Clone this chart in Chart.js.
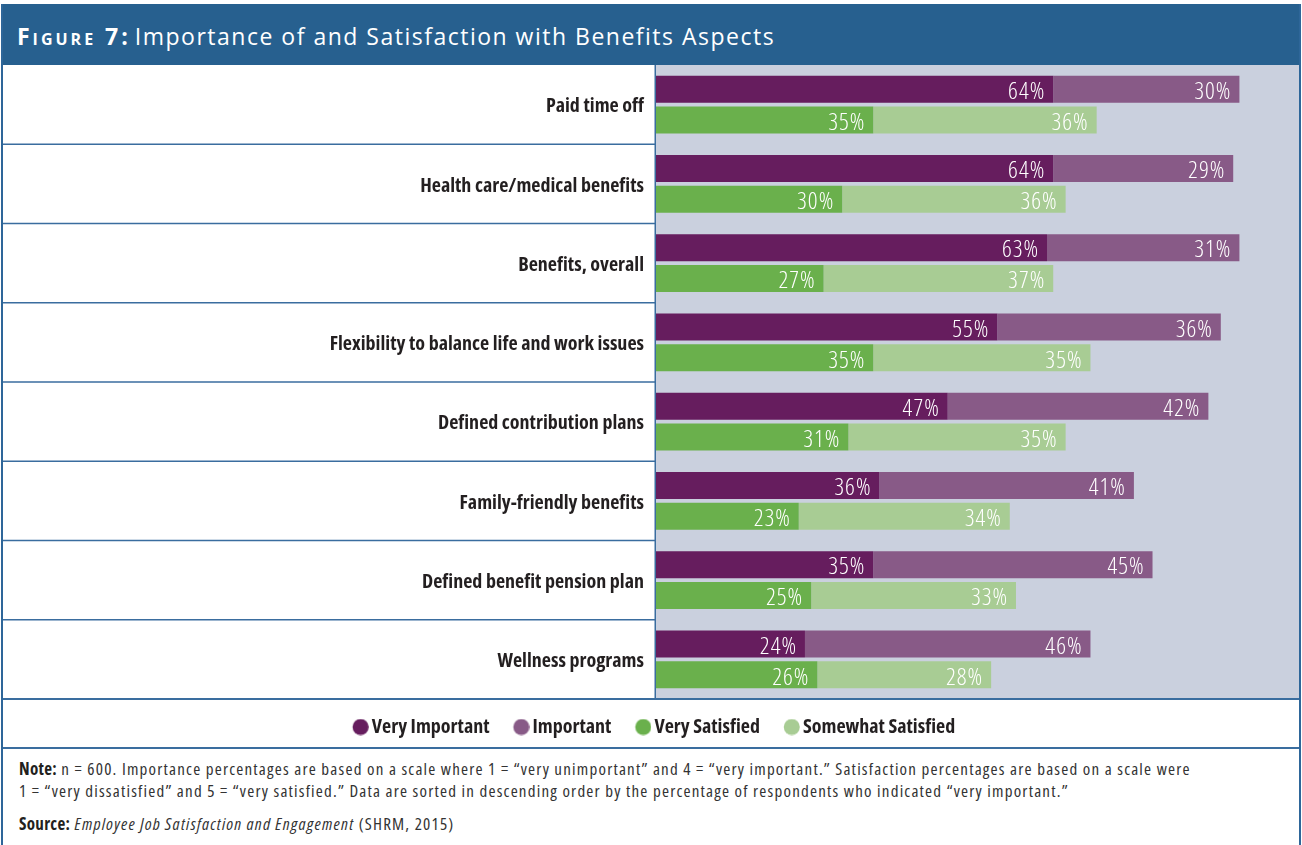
<!DOCTYPE html>
<html>
<head>
<meta charset="utf-8">
<script src="https://cdn.jsdelivr.net/npm/chart.js@4.4.1/dist/chart.umd.min.js"></script>
<style>
  html, body { margin: 0; padding: 0; background: #ffffff; }
  body { width: 1302px; height: 845px; position: relative; overflow: hidden; }
  #frame { position: absolute; left: 1px; top: 4px; width: 1296px; height: 845px;
           border-left: 2px solid #2e6699; border-right: 2px solid #2e6699; }
  #header { height: 61px; background: #27608f; color: #ffffff; display: flex; align-items: center;
            padding-left: 14px; padding-top: 2px; box-sizing: border-box; font-family: "Open Sans", sans-serif;
            font-size: 23px; letter-spacing: 1.5px; white-space: nowrap; }
  #header .fig { font-weight: bold; font-variant: small-caps; margin-right: 4px; letter-spacing: 3px; }
  #chartBox { position: relative; width: 1296px; height: 682px; }
  #notes { border-top: 2px solid #3a6d9f; padding: 9px 0 0 16px; font-family: "Open Sans", sans-serif; font-stretch: 87.5%;
           font-size: 17px; line-height: 22px; letter-spacing: 1.2px; color: #333333; white-space: nowrap; }
  #notes b { color: #231f20; font-stretch: 75%; letter-spacing: 0.3px; }
  #notes .src { margin-top: 11px; }
</style>
</head>
<body>
<div id="frame">
  <div id="header"><span class="fig">Figure 7:</span><span>Importance of and Satisfaction with Benefits Aspects</span></div>
  <div id="chartBox"><canvas id="c"></canvas></div>
  <div id="notes">
    <div><b>Note:</b> n = 600. Importance percentages are based on a scale where 1 = “very unimportant” and 4 = “very important.” Satisfaction percentages are based on a scale were<br>1 = “very dissatisfied” and 5 = “very satisfied.” Data are sorted in descending order by the percentage of respondents who indicated “very important.”</div>
    <div class="src"><b>Source:</b> <i>Employee Job Satisfaction and Engagement</i> (SHRM, 2015)</div>
  </div>
</div>
<script>
const categories = [
  "Paid time off",
  "Health care/medical benefits",
  "Benefits, overall",
  "Flexibility to balance life and work issues",
  "Defined contribution plans",
  "Family-friendly benefits",
  "Defined benefit pension plan",
  "Wellness programs"
];
const veryImportant     = [64, 64, 63, 55, 47, 36, 35, 24];
const important         = [30, 29, 31, 36, 42, 41, 45, 46];
const verySatisfied     = [35, 30, 27, 35, 31, 23, 25, 26];
const somewhatSatisfied = [36, 36, 37, 35, 35, 34, 33, 28];
const seriesNames = ["Very Important", "Important", "Very Satisfied", "Somewhat Satisfied"];

const colors = ["#661d5e", "#885a87", "#6ab04c", "#a8cc94"];
const plotBg = "#cad0de";
const lineBlue = "#3a6d9f";
const FAMILY = '"Open Sans", sans-serif';

function makeMarker(color) {
  const cv = document.createElement('canvas');
  cv.width = 29; cv.height = 17;
  const g = cv.getContext('2d');
  g.fillStyle = color;
  g.beginPath();
  g.arc(29 - 8.2, 8.5, 8, 0, Math.PI * 2);
  g.fill();
  return cv;
}
const markers = colors.map(makeMarker);

const bgPlugin = {
  id: 'bgLines',
  beforeDraw(chart) {
    const {ctx, chartArea: a, scales} = chart;
    ctx.save();
    ctx.fillStyle = plotBg;
    ctx.fillRect(a.left, a.top, a.right - a.left, a.bottom - a.top);
    ctx.strokeStyle = lineBlue;
    ctx.lineWidth = 1.5;
    const y = scales.y;
    for (let i = 0; i < categories.length - 1; i++) {
      const yy = (y.getPixelForValue(i) + y.getPixelForValue(i + 1)) / 2;
      ctx.beginPath(); ctx.moveTo(0, yy); ctx.lineTo(a.left, yy); ctx.stroke();
    }
    ctx.lineWidth = 2;
    ctx.beginPath(); ctx.moveTo(0, a.bottom); ctx.lineTo(chart.width, a.bottom); ctx.stroke();
    ctx.lineWidth = 1.5;
    ctx.beginPath(); ctx.moveTo(a.left - 0.75, a.top); ctx.lineTo(a.left - 0.75, a.bottom); ctx.stroke();
    ctx.restore();
  }
};

const labelPlugin = {
  id: 'barLabels',
  afterDatasetsDraw(chart) {
    const {ctx} = chart;
    ctx.save();
    ctx.fillStyle = '#ffffff';
    ctx.font = 'condensed 300 24px ' + FAMILY;
    ctx.letterSpacing = '1px';
    ctx.textAlign = 'right';
    ctx.textBaseline = 'middle';
    chart.data.datasets.forEach((ds, di) => {
      const meta = chart.getDatasetMeta(di);
      meta.data.forEach((bar, i) => {
        ctx.fillText(ds.data[i] + '%', bar.x - 8, bar.y + 3);
      });
    });
    ctx.restore();
  }
};

const allSeries = [veryImportant, important, verySatisfied, somewhatSatisfied];
const stacks = ['imp', 'imp', 'sat', 'sat'];

new Chart(document.getElementById('c'), {
  type: 'bar',
  data: {
    labels: categories,
    datasets: allSeries.map((d, i) => ({
      label: seriesNames[i],
      data: d,
      stack: stacks[i],
      backgroundColor: colors[i],
      borderWidth: 0,
      categoryPercentage: 0.782,
      barPercentage: 0.871
    }))
  },
  options: {
    indexAxis: 'y',
    responsive: true,
    maintainAspectRatio: false,
    animation: false,
    layout: { padding: 0 },
    scales: {
      x: { stacked: true, min: 0, max: 103.6, display: false },
      y: {
        grid: { display: false, drawTicks: false },
        border: { display: false },
        ticks: {
          color: '#231f20',
          padding: 12,
          labelOffset: 2,
          font: { family: FAMILY, size: 20, weight: 'condensed bold' }
        },
        afterFit(s) { s.width = 653; s.paddingTop = 0; s.paddingBottom = 0; }
      }
    },
    plugins: {
      tooltip: { enabled: false },
      legend: {
        position: 'bottom',
        labels: {
          usePointStyle: true,
          boxWidth: 15,
          pointStyleWidth: 15,
          padding: 18,
          color: '#231f20',
          font: { family: FAMILY, size: 20, weight: 'condensed bold' },
          generateLabels(chart) {
            const items = Chart.defaults.plugins.legend.labels.generateLabels(chart);
            items.forEach((it, i) => { it.pointStyle = markers[i]; });
            return items;
          }
        }
      }
    }
  },
  plugins: [bgPlugin, labelPlugin]
});
</script>
</body>
</html>
